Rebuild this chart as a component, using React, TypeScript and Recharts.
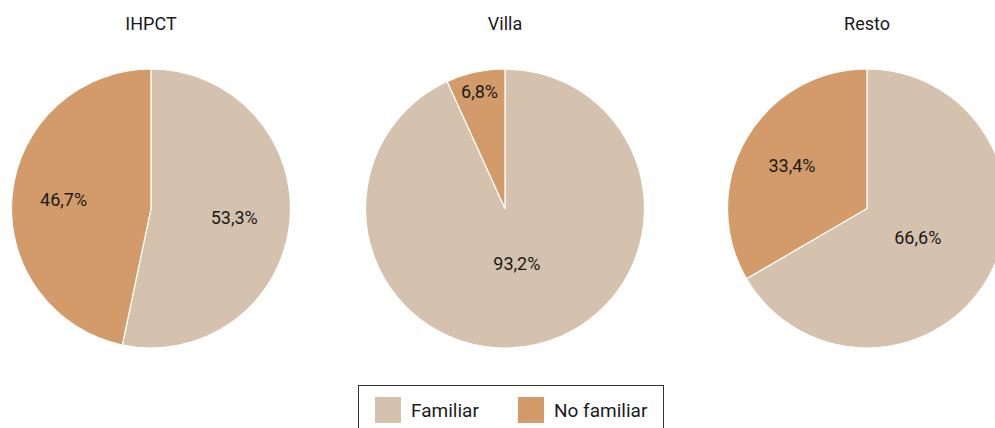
import React from 'react';
import { Cell, Legend, Pie, PieChart } from 'recharts';

const categories = ['Familiar', 'No familiar'];
const colors = ['#d5c2ae', '#d39b69'];

const titles = ['IHPCT', 'Villa', 'Resto'];
const ihpctValues = [53.3, 46.7];
const villaValues = [93.2, 6.8];
const restoValues = [66.6, 33.4];

// how far from the centre each label sits (share of the radius)
const labelRadius = [
  [0.6, 0.63],
  [0.4, 0.86],
  [0.42, 0.62]
];

const seriesList = [ihpctValues, villaValues, restoValues];
const centers = [151, 505, 867];
const RAD = Math.PI / 180;
const FONT = 'Roboto, "Noto Sans", sans-serif';

const fmt = (v: number) => `${v.toFixed(1).replace('.', ',')}%`;

const makeLabel = (chart: number) => (props: any) => {
  const { cx, cy, midAngle, outerRadius, index, value } = props;
  const r = outerRadius * labelRadius[chart][index];
  const x = cx + r * Math.cos(-midAngle * RAD);
  const y = cy + r * Math.sin(-midAngle * RAD);
  return (
    <text
      x={x}
      y={y}
      textAnchor="middle"
      dominantBaseline="central"
      fill="#1a1a1a"
      fontSize={18}
      fontFamily={FONT}
    >
      {fmt(value)}
    </text>
  );
};

const LegendBox = () => (
  <div
    style={{
      position: 'absolute',
      left: 358,
      top: 385,
      width: 306,
      height: 60,
      border: '1px solid #333',
      boxSizing: 'border-box',
      fontFamily: FONT,
      fontSize: 19,
      color: '#1a1a1a'
    }}
  >
    {categories.map((c, i) => (
      <div
        key={c}
        style={{
          position: 'absolute',
          left: i === 0 ? 16 : 159,
          top: 11,
          display: 'flex',
          alignItems: 'center'
        }}
      >
        <span
          style={{
            display: 'inline-block',
            width: 26,
            height: 26,
            background: colors[i],
            marginRight: 10
          }}
        />
        <span>{c}</span>
      </div>
    ))}
  </div>
);

const App: React.FC = () => {
  return (
    <div
      style={{
        position: 'absolute',
        left: 0,
        top: 0,
        width: 995,
        height: 428,
        overflow: 'hidden',
        background: '#fff'
      }}
    >
      <PieChart
        width={995}
        height={428}
        margin={{ top: 0, right: 0, bottom: 0, left: 0 }}
      >
        {seriesList.map((vals, k) => (
          <Pie
            key={titles[k]}
            data={vals.map((v, i) => ({ name: categories[i], value: v }))}
            dataKey="value"
            nameKey="name"
            cx={centers[k]}
            cy={208.5}
            outerRadius={139.5}
            startAngle={90}
            endAngle={-270}
            stroke="#ffffff"
            strokeWidth={1.2}
            label={makeLabel(k)}
            labelLine={false}
            isAnimationActive={false}
          >
            {vals.map((_, i) => (
              <Cell key={i} fill={colors[i]} />
            ))}
          </Pie>
        ))}
        <Legend content={() => null} />
      </PieChart>
      {titles.map((t, k) => (
        <div
          key={t}
          style={{
            position: 'absolute',
            left: centers[k] - 60,
            top: 13,
            width: 120,
            textAlign: 'center',
            fontFamily: FONT,
            fontSize: 18,
            color: '#1a1a1a'
          }}
        >
          {t}
        </div>
      ))}
      <LegendBox />
    </div>
  );
};

export default App;
